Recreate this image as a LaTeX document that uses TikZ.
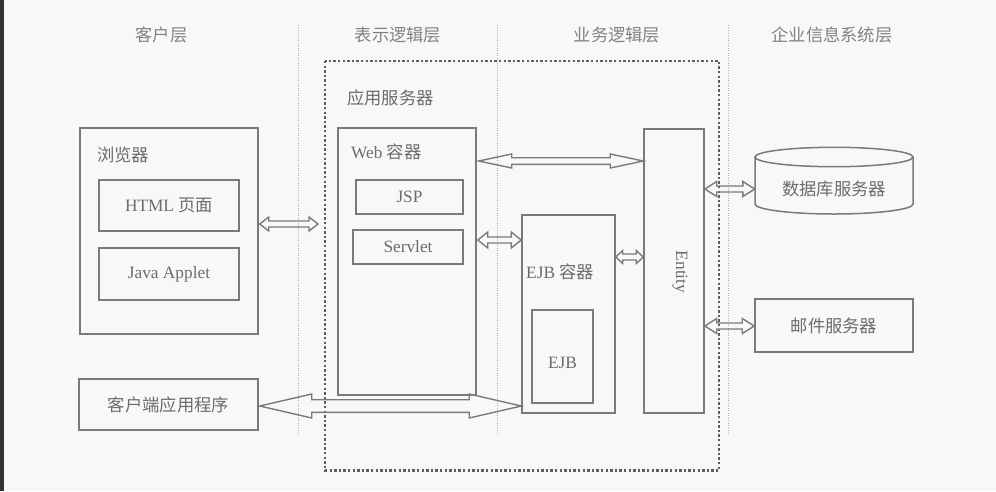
\documentclass[tikz,border=0pt]{standalone}
\usepackage{fontspec}
\setmainfont{Liberation Serif}
\newfontfamily\cjk{Noto Sans CJK SC}
\usetikzlibrary{calc}
\definecolor{bg}{HTML}{F7F8F7}
\definecolor{strip}{HTML}{2D3338}
\definecolor{ln}{HTML}{7A7A7A}
\definecolor{tx}{HTML}{6C6C6C}
\definecolor{sep}{HTML}{ABABAB}
\definecolor{dotc}{HTML}{5E5E5E}
\newcommand{\hollowarrow}[5]{%
  \draw[arr] let \p1=(#1), \p2=(#2) in
  (\x1,\y1) -- (\x1+#5pt,\y1+#4pt) -- (\x1+#5pt,\y1+#3pt) -- (\x2-#5pt,\y1+#3pt)
  -- (\x2-#5pt,\y1+#4pt) -- (\x2,\y1) -- (\x2-#5pt,\y1-#4pt) -- (\x2-#5pt,\y1-#3pt)
  -- (\x1+#5pt,\y1-#3pt) -- (\x1+#5pt,\y1-#4pt) -- cycle;}
\begin{document}
\begin{tikzpicture}[x=1pt,y=-1pt,
  box/.style={draw=ln, line width=1.5pt, inner sep=0pt, rectangle},
  lbl/.style={font=\fontsize{17.3}{20}\selectfont, text=tx, inner sep=0pt},
  head/.style={font=\fontsize{17.3}{20}\selectfont, text=tx!85, inner sep=0pt},
  arr/.style={draw=ln, line width=1.4pt, line join=miter},
  sepline/.style={draw=sep, line width=0.8pt, dash pattern=on 1pt off 1.5pt},
  srv/.style={draw=dotc, line width=2.6pt, dash pattern=on 2.4pt off 2.2pt}]
% background
\fill[bg] (0,0) rectangle (996,491);
\fill[strip] (0,0) rectangle (3.5,491);
\useasboundingbox (0,0) rectangle (996,491);

% headings
\node[head] (h1) at (161.5,35) {\cjk 客户层};
\node[head] (h2) at (398,35) {\cjk 表示逻辑层};
\node[head] (h3) at (617,35) {\cjk 业务逻辑层};
\node[head] (h4) at (832,35) {\cjk 企业信息系统层};

% separators
\coordinate (s1t) at (298,25); \coordinate (s1b) at (298,435);
\coordinate (s2t) at (497,25); \coordinate (s2b) at (497,435);
\coordinate (s3t) at (728,25); \coordinate (s3b) at (728,435);
\draw[sepline] (s1t) -- (s1b);
\draw[sepline] (s2t) -- (s2b);
\draw[sepline] (s3t) -- (s3b);

% application server
\coordinate (aps1) at (325,61); \coordinate (aps2) at (719,470.5);
\draw[srv] (aps1) rectangle (aps2);
\node[lbl, anchor=west] (apslbl) at (347,98) {\cjk 应用服务器};

% client tier
\node[box, minimum width=178pt, minimum height=206pt] (browser) at (169,231) {};
\node[lbl, anchor=west] (browserlbl) at (97,155) {\cjk 浏览器};
\node[box, minimum width=140pt, minimum height=51pt, lbl] (html) at (169,205.5) {HTML {\cjk 页面}};
\node[box, minimum width=140pt, minimum height=52pt, lbl] (applet) at (169,274) {Java Applet};
\node[box, minimum width=179pt, minimum height=51pt, lbl] (client) at (168.5,404.5) {\cjk 客户端应用程序};

% web container
\node[box, minimum width=138pt, minimum height=267pt] (web) at (407,261.5) {};
\node[lbl, anchor=west] (weblbl) at (351,152) {Web {\cjk 容器}};
\node[box, minimum width=107pt, minimum height=34pt, lbl] (jsp) at (409.5,197) {JSP};
\node[box, minimum width=110pt, minimum height=34pt, lbl] (servlet) at (408,247) {Servlet};

% EJB container
\node[box, minimum width=93pt, minimum height=198pt] (ejbc) at (568.5,314) {};
\node[lbl, anchor=west] (ejbclbl) at (526,272) {EJB {\cjk 容器}};
\node[box, minimum width=61pt, minimum height=93pt] (ejb) at (562.5,356.5) {};
\node[lbl] (ejblbl) at (562.5,363) {EJB};

% Entity
\node[box, minimum width=60pt, minimum height=284pt] (entity) at (674,271) {};
\node[lbl, rotate=-90] (entitylbl) at (680,272) {Entity};

% database server (cylinder)
\node[minimum width=158pt, minimum height=66pt, inner sep=0pt] (db) at (834,181) {};
\node[lbl] (dblbl) at (834,189) {\cjk 数据库服务器};
\draw[draw=ln, line width=1.5pt] (834,157) ellipse [x radius=79, y radius=9.7];
\draw[draw=ln, line width=1.5pt] (755,157) -- (755,204) arc [start angle=180, end angle=360, x radius=79, y radius=-10] -- (913,157);

% mail server
\node[box, minimum width=158pt, minimum height=53pt, lbl] (mail) at (834,325.5) {\cjk 邮件服务器};

% connectors
\coordinate (c1) at (318,224);
\hollowarrow{$(browser.east)+(1,-7)$}{c1}{3}{7}{9}
\hollowarrow{$(web.east)+(2,-100.5)$}{$(entity.west)+(0,-110)$}{3.3}{7}{33}
\hollowarrow{$(web.east)+(1,-21.5)$}{$(ejbc.west)+(0,-74)$}{3}{8}{10}
\hollowarrow{$(ejbc.east)+(0,-57)$}{$(entity.west)+(0,-14)$}{3}{6.5}{7}
\hollowarrow{$(entity.east)+(0,-82)$}{$(db.west)+(0,8)$}{3}{7.5}{12}
\hollowarrow{$(entity.east)+(0,55)$}{mail.west}{3}{7.5}{12}
\hollowarrow{$(client.east)+(1,1.5)$}{$(ejbc.west)+(0,92)$}{6.3}{12}{52}
\end{tikzpicture}
\end{document}
